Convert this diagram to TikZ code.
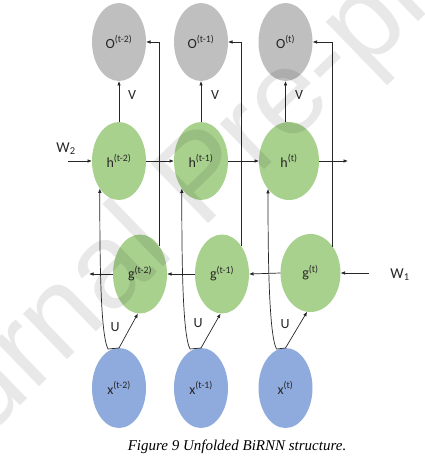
\documentclass[tikz,border=0pt]{standalone}
\usepackage{fontspec}
\setmainfont{Carlito}
\newfontfamily\capfont{Liberation Serif}
\newfontfamily\wmfont{Liberation Sans}
\usetikzlibrary{arrows.meta,shapes.geometric}
\definecolor{ogray}{HTML}{BFBFBF}
\definecolor{hgreen}{HTML}{A9D18E}
\definecolor{xblue}{HTML}{8FAADC}
\definecolor{linec}{HTML}{262626}
\begin{document}
\begin{tikzpicture}[x=1pt,y=-1pt,
  ell/.style={ellipse, minimum width=54pt, minimum height=78pt, inner sep=0pt, outer sep=0pt,
    font=\fontsize{14}{16}\selectfont, text=linec},
  onode/.style={ell, fill=ogray},
  gnode/.style={ell, fill=hgreen},
  xnode/.style={ell, fill=xblue, minimum height=80pt},
  arr/.style={draw=linec, line width=0.7pt, -{Latex[length=4.5pt,width=3.6pt]}},
  lab/.style={font=\fontsize{14}{16}\selectfont, inner sep=0pt, text=linec},
  wlab/.style={font=\fontsize{15}{17}\selectfont, inner sep=0pt, text=linec}]
\useasboundingbox (0,0) rectangle (424,462);
\fill[white] (0,0) rectangle (424,462);

% output nodes
\node[onode] (o1) at (119,42) {O\textsuperscript{(t-2)}};
\node[onode] (o2) at (201,42) {O\textsuperscript{(t-1)}};
\node[onode] (o3) at (285.5,42) {O\textsuperscript{(t)}};
% forward hidden nodes
\node[gnode] (h1) at (119,161) {h\textsuperscript{(t-2)}};
\node[gnode] (h2) at (201,161) {h\textsuperscript{(t-1)}};
\node[gnode, minimum width=60pt] (h3) at (289,161) {h\textsuperscript{(t)}};
% backward hidden nodes
\node[gnode, minimum height=79pt] (g1) at (140,274) {g\textsuperscript{(t-2)}};
\node[gnode, minimum height=79pt] (g2) at (222,274) {g\textsuperscript{(t-1)}};
\node[gnode, minimum width=60pt] (g3) at (310.5,273) {g\textsuperscript{(t)}};
% inputs
\node[xnode] (x1) at (119,388) {x\textsuperscript{(t-2)}};
\node[xnode] (x2) at (201,388) {x\textsuperscript{(t-1)}};
\node[xnode] (x3) at (285.5,388) {x\textsuperscript{(t)}};

% labels
\node[lab] (v1) at (132,95) {V};
\node[lab] (v2) at (215,95) {V};
\node[lab] (v3) at (299,95) {V};
\node[lab] (u1) at (115,327) {U};
\node[lab] (u2) at (198,323) {U};
\node[lab] (u3) at (285,324) {U};
\node[wlab] (w2) at (66,149) {W\textsubscript{2}};
\node[wlab] (w1) at (400,275) {W\textsubscript{1}};

\coordinate (w2s) at (68,161);
\coordinate (hend) at (348,161);
\coordinate (w1s) at (369,273);
\coordinate (gend) at (89,274);

% V connections
\draw[arr] (o1.south |- h1.north) -- (o1.south);
\draw[arr] (o2.south |- h2.north) -- (o2.south);
\draw[arr] (o3.south |- h3.north) -- (o3.south);
% g to O
\draw[arr] (g1.56) |- (o1.east);
\draw[arr] (g2.56) |- (o2.east);
\draw[arr] (g3.50) |- (o3.east);
% forward chain
\draw[arr] (w2s) -- (h1.west);
\draw[arr] (h1.east) -- (h2.west);
\draw[arr] (h2.east) -- (h3.west);
\draw[arr] (h3.east) -- (hend);
% backward chain
\draw[arr] (w1s) -- (g3.east);
\draw[arr] (g3.west) -- (g2.east);
\draw[arr] (g2.west) -- (g1.east);
\draw[arr] (g1.west) -- (gend);
% inputs to hidden
\draw[arr] (x1.north) -- (g1.-93);
\draw[arr] (x2.north) -- (g2.-92);
\draw[arr] (x3.north) -- (g3.-95);
\draw[arr] (x1.north) -- ++(-11,1) .. controls +(-8,-15) and +(0,60) .. (h1.-125);
\draw[arr] (x2.north) -- ++(-11,1) .. controls +(-8,-15) and +(0,60) .. (h2.-125);
\draw[arr] (x3.north) -- ++(-9,1) .. controls +(-8,-15) and +(0,60) .. (h3.-127);

% caption
\node[font=\capfont\itshape\fontsize{15}{18}\selectfont, inner sep=0pt] (cap) at (237,447) {Figure 9 Unfolded BiRNN structure.};

% watermark
\begin{scope}
\clip (0,0) rectangle (424,462);
\node[font=\wmfont\fontsize{120}{120}\selectfont, text=black, text opacity=0.09, rotate=44, inner sep=0pt] (wm) at (206,183) {Journal Pre-proof};
\end{scope}
\end{tikzpicture}
\end{document}
